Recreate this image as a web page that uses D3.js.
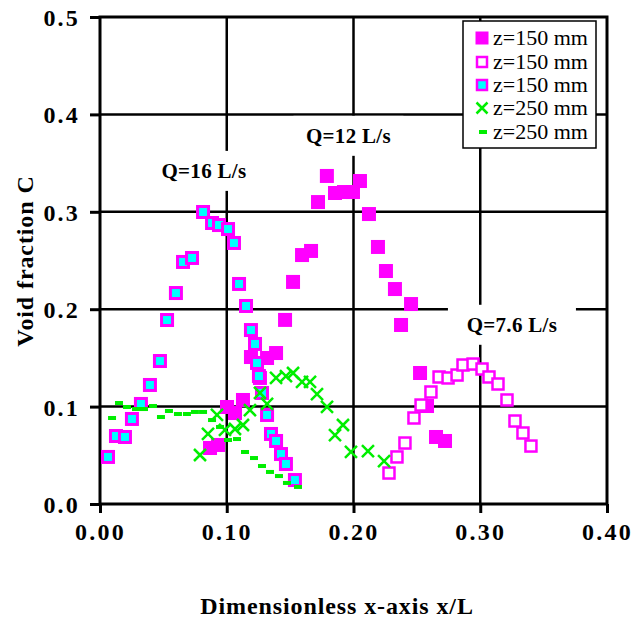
<!DOCTYPE html>
<html><head><meta charset="utf-8">
<script src="https://cdn.jsdelivr.net/npm/d3@7"></script>
<style>
html,body{margin:0;padding:0;background:#fff;}
svg{display:block;}
text{font-family:"Liberation Serif","Times New Roman",serif;}
</style></head>
<body>
<svg id="chart" width="632" height="619"></svg>
<script>
// ---- data ----
const xTicks = [0, 0.1, 0.2, 0.3, 0.4];
const yTicks = [0, 0.1, 0.2, 0.3, 0.4, 0.5];
const legendLabels = ["z=150 mm", "z=150 mm", "z=150 mm", "z=250 mm", "z=250 mm"];
const flowLabels = ["Q=16 L/s", "Q=12 L/s", "Q=7.6 L/s"];
const flowLabelX = [0.082, 0.196, 0.325];
const flowLabelY = [0.342, 0.378, 0.184];

// Q=12 L/s, z=150 mm (filled magenta squares)
const s1x = [0.0868,0.0931,0.1002,0.1065,0.1128,0.1191,0.1262,0.1318,0.1389,0.146,0.1523,0.1594,0.1665,0.172,0.179,0.1854,0.1925,0.1996,0.2051,0.2122,0.2193,0.2256,0.2327,0.2375,0.2454,0.2525,0.258,0.2651,0.2722];
const s1y = [0.0575,0.0606,0.0996,0.0934,0.1068,0.1509,0.1294,0.1499,0.155,0.189,0.228,0.2556,0.2598,0.31,0.3368,0.3193,0.3203,0.3203,0.3316,0.2977,0.2639,0.2392,0.2207,0.1838,0.2053,0.1345,0.1006,0.0688,0.0647];
// Q=7.6 L/s, z=150 mm (open magenta squares)
const s2x = [0.228,0.2343,0.2406,0.2477,0.2533,0.2611,0.2675,0.2746,0.2817,0.2864,0.2943,0.3014,0.3069,0.314,0.3211,0.3274,0.3337,0.34];
const s2y = [0.0318,0.0483,0.0626,0.0883,0.1016,0.115,0.1304,0.1294,0.1324,0.1427,0.1437,0.1386,0.1304,0.1232,0.1068,0.0852,0.0729,0.0595];
// Q=16 L/s, z=150 mm (cyan squares, magenta border)
const s3x = [0.0063,0.0126,0.0197,0.0252,0.0323,0.0394,0.0473,0.0529,0.0599,0.0655,0.0726,0.0813,0.0884,0.0939,0.101,0.1057,0.1097,0.1152,0.1191,0.1223,0.1239,0.1254,0.1278,0.1318,0.1349,0.1389,0.1428,0.1467,0.1538];
const s3y = [0.0483,0.0698,0.0688,0.0873,0.1027,0.1222,0.1468,0.1889,0.2166,0.2485,0.2526,0.2998,0.2885,0.2864,0.2823,0.268,0.2259,0.2033,0.1786,0.1643,0.1448,0.1314,0.114,0.0914,0.0719,0.0647,0.0513,0.0411,0.0246];
// z=250 mm (green crosses)
const s4x = [0.0789,0.0852,0.0923,0.0986,0.1065,0.1128,0.1183,0.1262,0.1318,0.1389,0.1467,0.1523,0.1594,0.1657,0.1712,0.1791,0.1854,0.1917,0.198,0.2114,0.2241];
const s4y = [0.0503,0.0719,0.0914,0.076,0.077,0.0811,0.0965,0.114,0.1027,0.1294,0.1314,0.1345,0.1253,0.1253,0.1129,0.0996,0.0708,0.0811,0.0534,0.0544,0.0441];
// z=250 mm (green dashes)
const s5x = [0.0095,0.015,0.0213,0.0284,0.0347,0.0418,0.0481,0.0544,0.0615,0.0686,0.0749,0.0813,0.0884,0.0947,0.101,0.1081,0.1144,0.1215,0.1278,0.1341,0.1412,0.1475,0.1562];
const s5y = [0.0883,0.1037,0.0996,0.0975,0.0975,0.1006,0.0893,0.0955,0.0924,0.0924,0.0945,0.0945,0.0862,0.0791,0.0657,0.0667,0.0534,0.0472,0.039,0.0329,0.0287,0.0216,0.0175];

// ---- layout ----
const L = 100, R = 607, T = 17, B = 504;
const MAG = "#ff00ff", CYAN = "#00ffff", GREEN = "#00ee00";
const svg = d3.select("#chart");
const x = d3.scaleLinear().domain([0, 0.4]).range([L, R]);
const y = d3.scaleLinear().domain([0, 0.5]).range([B, T]);

// gridlines
const grid = svg.append("g");
grid.selectAll("line.gx").data(xTicks.slice(1, -1)).join("line")
  .attr("x1", d => x(d)).attr("x2", d => x(d)).attr("y1", T).attr("y2", B)
  .attr("stroke", "#000").attr("stroke-width", 2.5);
grid.selectAll("line.gy").data(yTicks.slice(1, -1)).join("line")
  .attr("x1", L).attr("x2", R).attr("y1", d => y(d)).attr("y2", d => y(d))
  .attr("stroke", "#000").attr("stroke-width", 2.5);

// label boxes (white background hiding gridlines)
const boxW = [112, 110, 128];
flowLabels.forEach((t, i) => {
  svg.append("rect").attr("x", x(flowLabelX[i]) - boxW[i] / 2).attr("y", y(flowLabelY[i]) - 20)
    .attr("width", boxW[i]).attr("height", 40).attr("fill", "#fff");
});

// axes
const xAxis = d3.axisBottom(x).tickValues(xTicks).tickFormat(d3.format(".2f")).tickSize(9).tickSizeOuter(0);
const gx = svg.append("g").attr("transform", `translate(0,${B})`).call(xAxis);
gx.select(".domain").remove();
gx.selectAll(".tick line").attr("stroke", "#000").attr("stroke-width", 3);
gx.selectAll(".tick text").attr("font-family", "Liberation Serif").attr("font-weight", "bold")
  .attr("font-size", 24).attr("fill", "#000").attr("y", 36).attr("dy", 0).attr("letter-spacing", 2.2);

const yAxis = d3.axisLeft(y).tickValues(yTicks).tickFormat(d3.format(".1f")).tickSize(10).tickSizeOuter(0);
const gy = svg.append("g").attr("transform", `translate(${L},0)`).call(yAxis);
gy.select(".domain").remove();
gy.selectAll(".tick line").attr("stroke", "#000").attr("stroke-width", 3);
gy.selectAll(".tick text").attr("font-family", "Liberation Serif").attr("font-weight", "bold")
  .attr("font-size", 24).attr("fill", "#000").attr("x", -20).attr("dy", "0.35em").attr("letter-spacing", 2.2);

// frame
svg.append("rect").attr("x", L).attr("y", T).attr("width", R - L).attr("height", B - T)
  .attr("fill", "none").attr("stroke", "#000").attr("stroke-width", 3);

// axis titles
svg.append("text").attr("x", 337).attr("y", 614).attr("text-anchor", "middle")
  .attr("font-weight", "bold").attr("font-size", 24).attr("letter-spacing", 0.9).text("Dimensionless x-axis x/L");
svg.append("text").attr("transform", "translate(33,261) rotate(-90)").attr("text-anchor", "middle")
  .attr("font-weight", "bold").attr("font-size", 24).attr("letter-spacing", 0.9).text("Void fraction C");

// flow labels
flowLabels.forEach((t, i) => {
  svg.append("text").attr("x", x(flowLabelX[i])).attr("y", y(flowLabelY[i]) + 7).attr("text-anchor", "middle")
    .attr("font-weight", "bold").attr("font-size", 21).attr("letter-spacing", 0.3).text(t);
});

// series
function zip(xs, ys) { return xs.map((v, i) => [v, ys[i]]); }
const g = svg.append("g");
g.selectAll("rect.s1").data(zip(s1x, s1y)).join("rect")
  .attr("x", d => x(d[0]) - 7).attr("y", d => y(d[1]) - 7).attr("width", 14).attr("height", 14).attr("fill", MAG);
g.selectAll("rect.s2").data(zip(s2x, s2y)).join("rect")
  .attr("x", d => x(d[0]) - 5.5).attr("y", d => y(d[1]) - 5.5).attr("width", 11).attr("height", 11)
  .attr("fill", "#fff").attr("stroke", MAG).attr("stroke-width", 2.5);
g.selectAll("rect.s3").data(zip(s3x, s3y)).join("rect")
  .attr("x", d => x(d[0]) - 5.5).attr("y", d => y(d[1]) - 5.5).attr("width", 11).attr("height", 11)
  .attr("fill", CYAN).attr("stroke", MAG).attr("stroke-width", 3);
const s4 = g.selectAll("g.s4").data(zip(s4x, s4y)).join("g")
  .attr("transform", d => `translate(${x(d[0])},${y(d[1])})`);
s4.append("path").attr("d", "M-6,-6L6,6M-6,6L6,-6").attr("stroke", GREEN).attr("stroke-width", 2.5).attr("fill", "none");
g.selectAll("rect.s5").data(zip(s5x, s5y)).join("rect")
  .attr("x", d => x(d[0]) - 4).attr("y", d => y(d[1]) - 2).attr("width", 8).attr("height", 4).attr("fill", GREEN);

// legend
const lg = svg.append("g");
lg.append("rect").attr("x", 463).attr("y", 21).attr("width", 133).attr("height", 127)
  .attr("fill", "#fff").attr("stroke", "#000").attr("stroke-width", 1.5);
const rowY = [38, 62, 85, 108, 132];
const mx = 482;
lg.append("rect").attr("x", mx - 6.5).attr("y", rowY[0] - 6.5).attr("width", 13).attr("height", 13).attr("fill", MAG);
lg.append("rect").attr("x", mx - 5).attr("y", rowY[1] - 5).attr("width", 10).attr("height", 10)
  .attr("fill", "#fff").attr("stroke", MAG).attr("stroke-width", 2.5);
lg.append("rect").attr("x", mx - 5).attr("y", rowY[2] - 5).attr("width", 10).attr("height", 10)
  .attr("fill", CYAN).attr("stroke", MAG).attr("stroke-width", 2.5);
lg.append("path").attr("d", `M${mx-5.5},${rowY[3]-5.5}L${mx+5.5},${rowY[3]+5.5}M${mx-5.5},${rowY[3]+5.5}L${mx+5.5},${rowY[3]-5.5}`)
  .attr("stroke", GREEN).attr("stroke-width", 2.5);
lg.append("rect").attr("x", mx - 3).attr("y", rowY[4] - 2).attr("width", 8).attr("height", 4).attr("fill", GREEN);
lg.selectAll("text").data(legendLabels).join("text")
  .attr("x", 493).attr("y", (d, i) => rowY[i] + 7).attr("font-size", 22).attr("fill", "#000").text(d => d);
</script>
</body></html>
